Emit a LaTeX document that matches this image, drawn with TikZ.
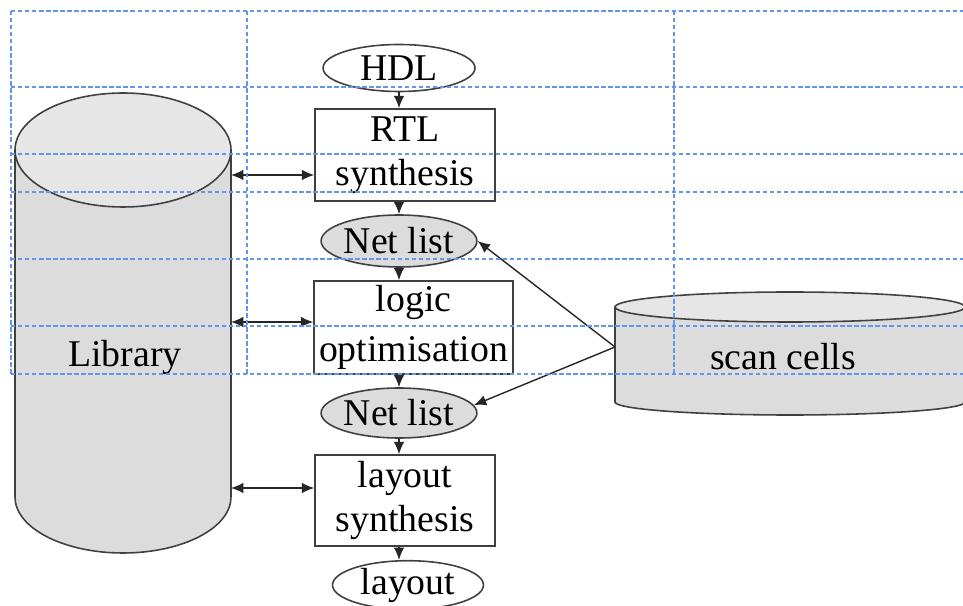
\documentclass[tikz,border=0pt]{standalone}
\usepackage{fontspec}
\setmainfont{Liberation Serif}
\usetikzlibrary{shapes.geometric,arrows.meta}
\definecolor{gridblue}{RGB}{100,149,237}
\definecolor{cylfill}{RGB}{220,220,220}
\definecolor{cyltop}{RGB}{230,230,230}
\definecolor{edge}{RGB}{64,64,64}

\begin{document}
\begin{tikzpicture}[x=0.02cm,y=0.02cm,>={Latex[length=7pt,width=6pt]},
  every node/.style={font=\fontsize{21.5}{25}\selectfont},
  stepbox/.style={draw=edge,line width=0.9pt,fill=white,inner sep=0pt,align=center},
  data/.style={ellipse,draw=edge,line width=0.9pt,fill=white,inner sep=0pt,minimum width=3.04cm,minimum height=1cm},
  flow/.style={->,draw=black!85,line width=0.8pt},
  griddash/.style={draw=gridblue,line width=0.6pt,dash pattern=on 2.5pt off 1.5pt}]

\useasboundingbox (0,0) rectangle (963,605);

% library
\fill[cylfill] (15,455) -- (15,108) arc[start angle=180,end angle=360,x radius=108,y radius=56] -- (231,455) -- cycle;
\draw[edge,line width=0.9pt] (15,455) -- (15,108) arc[start angle=180,end angle=360,x radius=108,y radius=56] -- (231,455);
\filldraw[fill=cyltop,draw=edge,line width=0.9pt] (123,455) ellipse [x radius=108,y radius=57];
\node (library) at (125,248) {Library};

% scan cells
\fill[cylfill] (615,298) -- (615,203) arc[start angle=180,end angle=360,x radius=175,y radius=13] -- (965,298) -- cycle;
\draw[edge,line width=0.9pt] (615,298) -- (615,203) arc[start angle=180,end angle=360,x radius=175,y radius=13] -- (965,298);
\filldraw[fill=cyltop,draw=edge,line width=0.9pt] (790,298) ellipse [x radius=175,y radius=15];
\node (scan) at (783,248) {scan cells};

% flow
\node[data,minimum height=0.94cm] (hdl) at (399,537) {HDL};
\node[stepbox,minimum width=3.6cm,minimum height=1.84cm] (rtl) at (405,450) {RTL\\synthesis};
\node[data,fill=cylfill,minimum height=1.04cm] (net1) at (399,364) {Net list};
\node[stepbox,minimum width=3.98cm,minimum height=1.86cm] (logic) at (413.5,277.5) {logic\\[3pt]optimisation};
\node[data,fill=cylfill] (net2) at (399,192) {Net list};
\node[stepbox,minimum width=3.6cm,minimum height=1.82cm] (layoutsyn) at (405,104.5) {layout\\synthesis};
\node[data,minimum width=3.02cm,minimum height=0.92cm] (layout) at (408,20) {layout};

\draw[flow] (hdl.south) -- (rtl.north -| hdl);
\draw[flow] (rtl.south -| net1) -- (net1.north);
\draw[flow] (net1.south) -- (logic.north -| net1);
\draw[flow] (logic.south -| net2) -- (net2.north);
\draw[flow] (net2.south) -- (layoutsyn.north -| net2);
\draw[flow] (layoutsyn.south -| net2) -- (layout.north -| net2);

% library links
\coordinate (libA) at (231,430);
\coordinate (libB) at (231,283);
\coordinate (libC) at (231,117);
\draw[flow,<->] (libA) -- (libA -| rtl.west);
\draw[flow,<->] (libB) -- (libB -| logic.west);
\draw[flow,<->] (libC) -- (libC -| layoutsyn.west);

% scan cells links
\coordinate (scanin) at (615,258);
\draw[flow] (scanin) -- (net1.east);
\draw[flow] (scanin) -- (net2.6);

% grid
\foreach \gx in {11,247,674}
  \draw[griddash] (\gx,594) -- (\gx,231);
\foreach \gy in {594,518,451,413,346,279,231}
  \draw[griddash] (11,\gy) -- (963,\gy);

\end{tikzpicture}
\end{document}
